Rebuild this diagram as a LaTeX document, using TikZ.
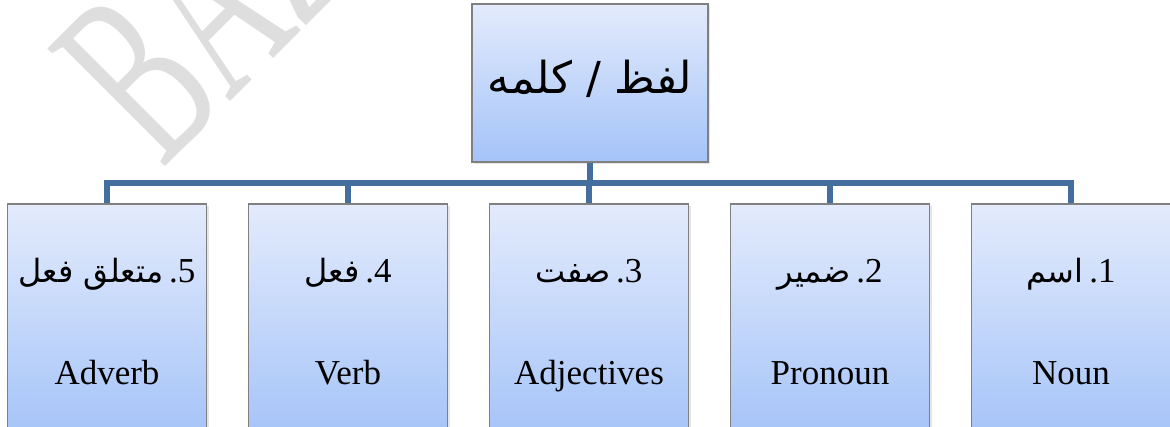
\documentclass[tikz,border=0pt]{standalone}
\usepackage{fontspec}
\setmainfont{Liberation Serif}
\newfontfamily\urdufont[Script=Arabic]{DejaVu Sans}
\TeXXeTstate=1
\usepackage{tikz}
\usetikzlibrary{shadows}
\definecolor{boxtop}{RGB}{227,235,252}
\definecolor{boxbot}{RGB}{164,195,248}
\definecolor{boxline}{RGB}{128,128,128}
\definecolor{linkblue}{RGB}{68,110,158}
\tikzstyle{box}=[rectangle,draw=boxline,line width=0.8pt,top color=boxtop,bottom color=boxbot,inner sep=0pt,drop shadow={opacity=0.2,shadow xshift=1pt,shadow yshift=-1.2pt}]
\tikzstyle{cat}=[box,minimum width=99.5pt,minimum height=118pt]
\tikzstyle{link}=[draw=linkblue,line width=2.6pt]
\tikzstyle{urline}=[anchor=base,inner sep=0pt,font=\fontsize{17.5}{20}\selectfont]
\tikzstyle{eng}=[anchor=base,inner sep=0pt,font=\fontsize{17.5}{20}\selectfont]
\tikzstyle{watermark}=[anchor=base west,rotate=45,xscale=0.56,inner sep=0pt,text=black!13,font=\fontsize{127}{127}\selectfont]

\begin{document}
\begin{tikzpicture}[x=0.5pt, y=-0.5pt]
    \useasboundingbox (0,0) rectangle (1170,427);
    \clip (0,0) rectangle (1170,427);
    \fill[white] (0,0) rectangle (1170,427);
    \node[watermark] (wm) at (162,170) {BAZ};

    \node[box, minimum width=118pt, minimum height=79pt] (top) at (590,83) {};
    \node[anchor=center, inner sep=0pt, font=\fontsize{22}{25}\selectfont] (toplbl) at (590,79)
        {\urdufont\beginR لفظ / کلمه\endR};
    \coordinate (bus) at (590,183);

    \foreach \pos/\name/\ur/\num/\eng in {{(107,322)/adverb/متعلق فعل/5/Adverb},
    {(348,322)/verb/فعل/4/Verb},{(589,322)/adj/صفت/3/Adjectives},
    {(830,322)/pronoun/ضمیر/2/Pronoun},{(1071,322)/noun/اسم/1/Noun}}
    {
        \node[cat] (\name) at \pos {};
        \node[urline] (\name-ur) at ([yshift=-39.5pt]\name.north)
            {{\urdufont\fontsize{16}{20}\selectfont\beginR \ur\endR}\,.\num};
        \node[eng] (\name-en) at ([yshift=-90.5pt]\name.north) {\eng};
        \path[link] (top.south) -- (bus) -| (\name.north);
    }
\end{tikzpicture}
\end{document}
